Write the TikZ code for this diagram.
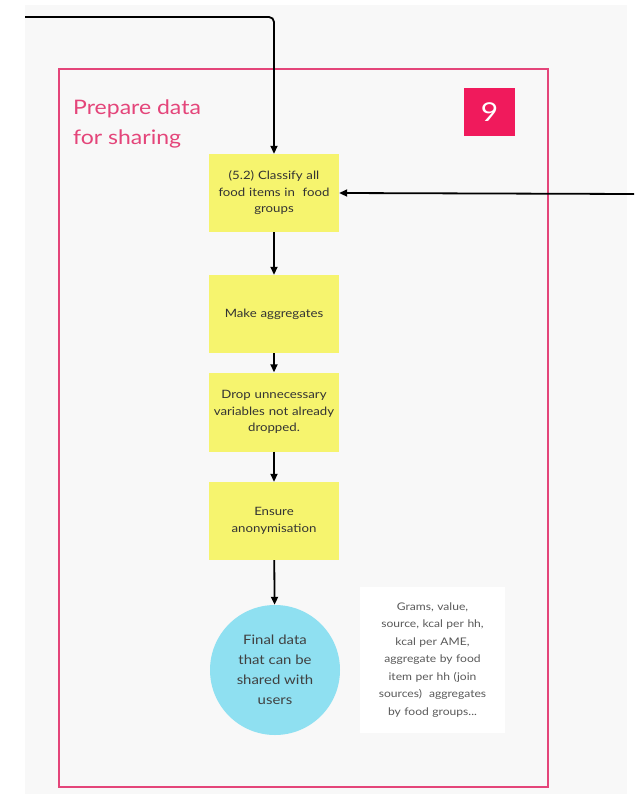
\documentclass[tikz,border=0pt]{standalone}
\usepackage{fontspec}
\setmainfont[FakeStretch=1.15]{Lato}
\usetikzlibrary{arrows.meta}

\definecolor{framepink}{HTML}{E4457A}
\definecolor{badgered}{HTML}{F01A5C}
\definecolor{noteyellow}{HTML}{F6F46E}
\definecolor{finalcyan}{HTML}{8FE0F1}
\definecolor{canvasgray}{HTML}{F8F8F8}

\tikzset{
  stepbox/.style={fill=noteyellow, minimum width=130pt, text width=124pt,
    align=center, inner sep=0pt, text=black!80,
    font=\fontsize{11.5}{16.5}\selectfont},
  flow/.style={-{Triangle[length=8pt,width=7pt]}, line width=1.8pt},
}

\begin{document}
\begin{tikzpicture}[x=1pt,y=-1pt]
\useasboundingbox (0,0) rectangle (634,794);

% canvas
\fill[canvasgray] (25,5) rectangle (627,794);

% frame of step 9
\draw[framepink, line width=2.4pt] (59,69) rectangle (548,787);
\node[anchor=north west, align=left, text=framepink, inner sep=0pt,
  font=\fontsize{20}{30}\selectfont] (title) at (73,100)
  {Prepare data\\for sharing};
\node[fill=badgered, text=white, minimum width=51pt, minimum height=48pt,
  inner sep=0pt, font=\fontsize{26}{26}\selectfont] (badge) at (489.5,112) {9};

% steps
\node[stepbox, minimum height=78pt] (classify) at (274,193)
  {(5.2) Classify all\\food items in\ \ food\\groups};
\node[stepbox, minimum height=78pt] (aggregate) at (274,314) {Make aggregates};
\node[stepbox, minimum height=79pt] (drop) at (274,412)
  {Drop unnecessary\\variables not already\\dropped.};
\node[stepbox, minimum height=78pt] (anon) at (274,521) {Ensure\\anonymisation};

% result
\node[circle, fill=finalcyan, minimum size=130pt, inner sep=0pt, align=center,
  text=black!75, font=\fontsize{13}{20}\selectfont] (final) at (275,670)
  {Final data\\that can be\\shared with\\users};
\node[fill=white, minimum width=145pt, minimum height=146pt, text width=142pt,
  align=center, inner sep=0pt, text=black!65,
  font=\fontsize{10.5}{17.5}\selectfont] (content) at (432.5,660)
  {Grams, value,\\source, kcal per hh,\\kcal per AME,\\aggregate by food\\item per hh (join\\sources)\ \ aggregates\\by food groups...};

% incoming connectors
\coordinate (fromleft) at (25,17);
\coordinate (fromright) at (634,194);
\draw[flow, rounded corners=5pt] (fromleft) -| (classify.north);
\draw[flow] (fromright) -- (classify.east);

% flow
\draw[flow] (classify) -- (aggregate);
\draw[flow] (aggregate) -- (drop);
\draw[flow] (drop) -- (anon);
\draw[flow] (anon) -- (final);

\end{tikzpicture}
\end{document}
